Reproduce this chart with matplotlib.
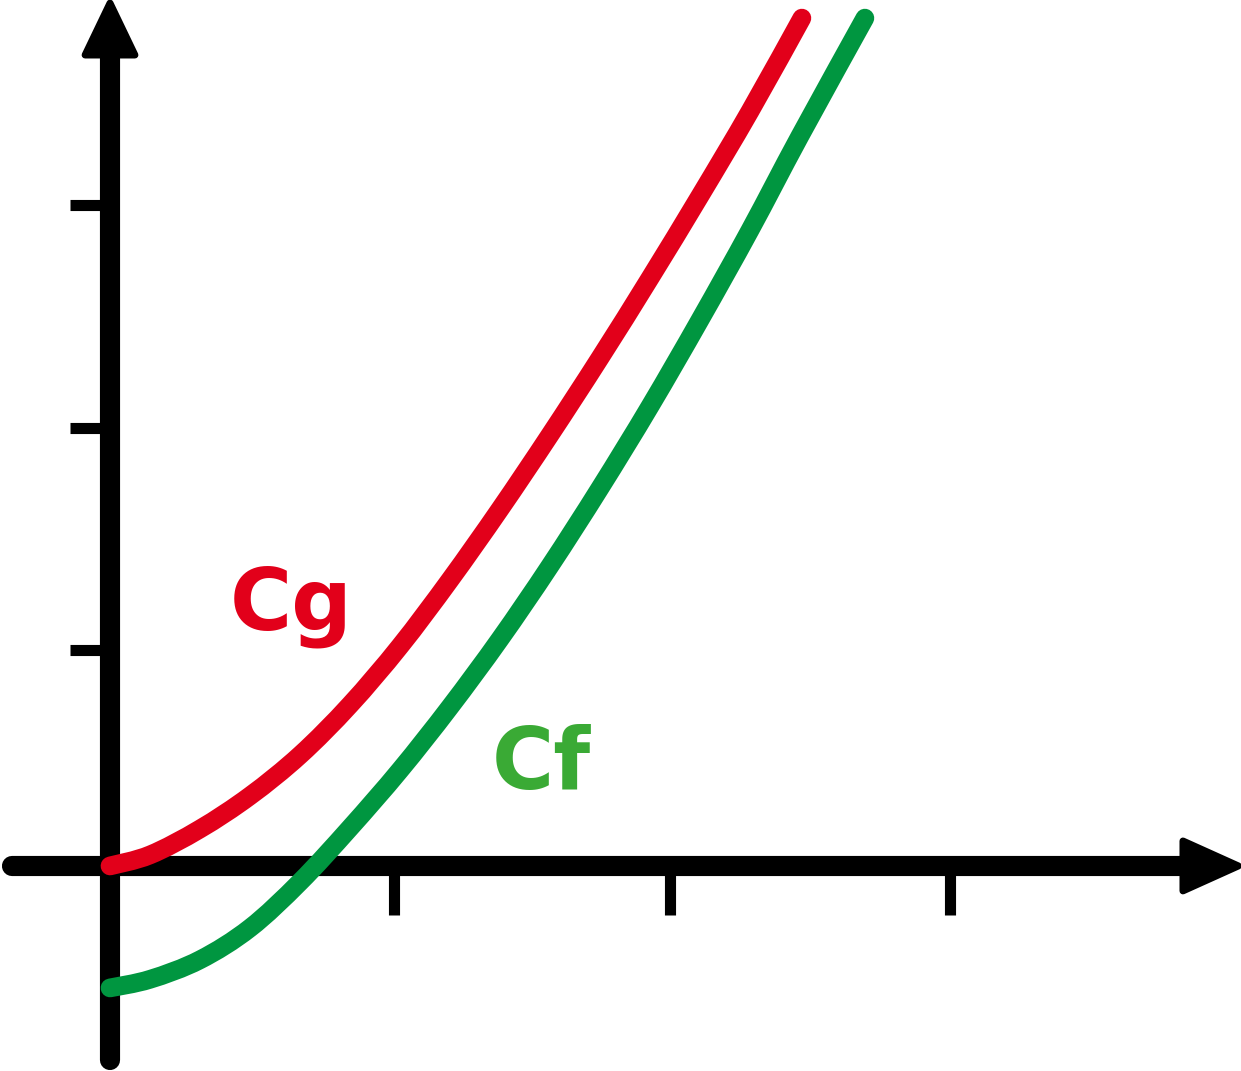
import matplotlib.pyplot as plt
import numpy as np
from matplotlib.path import Path
from matplotlib.patches import PathPatch

# values (x, y in tick units)
cg_x = [0, 0.143, 0.321, 0.5, 0.679, 0.857, 1.036, 1.214, 1.393,
        1.571, 1.75, 1.929, 2.107, 2.286, 2.471]
cg_y = [0, 0.050, 0.167, 0.317, 0.502, 0.729, 0.995, 1.294, 1.615,
        1.950, 2.299, 2.661, 3.032, 3.416, 3.837]
cf_x = [0, 0.143, 0.321, 0.5, 0.679, 0.857, 1.036, 1.214, 1.393,
        1.571, 1.75, 1.929, 2.107, 2.286, 2.464, 2.696]
cf_y = [-0.552, -0.513, -0.425, -0.281, -0.072, 0.172, 0.434, 0.719, 1.027,
        1.357, 1.710, 2.081, 2.471, 2.878, 3.303, 3.837]
x_ticks = [1.014, 2.0, 3.0]
y_ticks = [0.977, 1.982, 2.991]
labels = ["Cg", "Cf"]

red = "#e2001a"
green = "#009640"
green_txt = "#3aaa35"


def smooth_path(xs, ys):
    # catmull-rom through the points, drawn as cubic bezier segments
    p = np.column_stack([xs, ys])
    ext = np.vstack([p[0], p, p[-1]])
    verts = [p[0]]
    codes = [Path.MOVETO]
    for i in range(1, len(ext) - 2):
        c1 = ext[i] + (ext[i + 1] - ext[i - 1]) / 6
        c2 = ext[i + 1] - (ext[i + 2] - ext[i]) / 6
        verts += [c1, c2, ext[i + 1]]
        codes += [Path.CURVE4] * 3
    return Path(verts, codes)


fig = plt.figure(figsize=(12.41, 10.71), dpi=100)
ax = fig.add_axes([0, 0, 1, 1])
ax.set_xlim(-0.3929, 4.0393)
ax.set_ylim(-0.928, 3.919)
ax.axis("off")

# axis arrows
ax.plot([-0.35, 3.86], [0, 0], color="black", lw=14.5, solid_capstyle="round", zorder=1)
ax.plot([0, 0], [-0.878, 3.69], color="black", lw=14.5, solid_capstyle="round", zorder=1)
ax.fill([3.832, 4.03, 3.832], [0.113, 0, -0.113], color="black", lw=5, joinstyle="round", zorder=1)
ax.fill([-0.089, 0, 0.089], [3.67, 3.905, 3.67], color="black", lw=5, joinstyle="round", zorder=1)

# ticks
for t in x_ticks:
    ax.plot([t, t], [0, -0.222], color="black", lw=8, solid_capstyle="butt", zorder=1)
for t in y_ticks:
    ax.plot([0, -0.143], [t, t], color="black", lw=8, solid_capstyle="butt", zorder=1)

# curves
for xs, ys, col, z in [(cg_x, cg_y, red, 3), (cf_x, cf_y, green, 2)]:
    ax.add_patch(PathPatch(smooth_path(xs, ys), fill=False, edgecolor=col, lw=13.5,
                           capstyle="round", joinstyle="round", zorder=z))

ax.text(0.429, 1.068, labels[0], color=red, fontsize=61, fontweight="bold",
        ha="left", va="baseline", family="DejaVu Sans")
ax.text(1.364, 0.35, labels[1], color=green_txt, fontsize=61, fontweight="bold",
        ha="left", va="baseline", family="DejaVu Sans")

fig.savefig("out.png", dpi=100)
